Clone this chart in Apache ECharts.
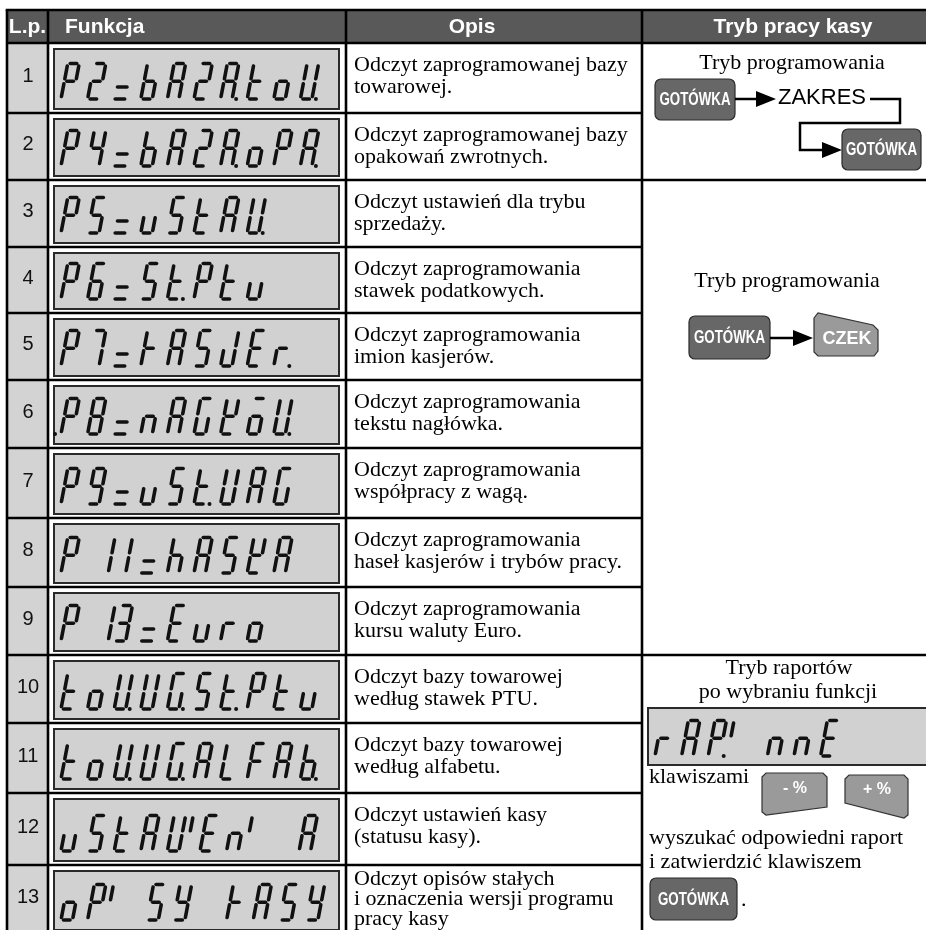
<!DOCTYPE html>
<html><head><meta charset="utf-8">
<script src="https://cdn.jsdelivr.net/npm/echarts@6/dist/echarts.min.js"></script>
<style>html,body{margin:0;padding:0;background:#fff}#c{width:926px;height:930px}</style>
</head><body><div id="c"></div>
<script>
// ---------- DATA ----------
const headers = ['L.p.', 'Funkcja', 'Opis', 'Tryb pracy kasy'];
const rowNumbers = ['1','2','3','4','5','6','7','8','9','10','11','12','13'];
const displayTexts = [
  'P2=bAZA.toU.', 'P4=bAZA.oPA.', 'P5=uStAU.', 'P6=St.Ptu', 'P7=kASJEr.',
  '.P8=nAGŁōU.', 'P9=uSt.UAG', 'P 11=hASŁA', 'P 13=Euro', 'toU.UG.St.Ptu',
  'toU.UG.ALFAb.', 'uStAUIEnI \u2009A', 'oPI SY kASY'
];
const descriptions = [
  ['Odczyt zaprogramowanej bazy', 'towarowej.'],
  ['Odczyt zaprogramowanej bazy', 'opakowań zwrotnych.'],
  ['Odczyt ustawień dla trybu', 'sprzedaży.'],
  ['Odczyt zaprogramowania', 'stawek podatkowych.'],
  ['Odczyt zaprogramowania', 'imion kasjerów.'],
  ['Odczyt zaprogramowania', 'tekstu nagłówka.'],
  ['Odczyt zaprogramowania', 'współpracy z wagą.'],
  ['Odczyt zaprogramowania', 'haseł kasjerów i trybów pracy.'],
  ['Odczyt zaprogramowania', 'kursu waluty Euro.'],
  ['Odczyt bazy towarowej', 'według stawek PTU.'],
  ['Odczyt bazy towarowej', 'według alfabetu.'],
  ['Odczyt ustawień kasy', '(statusu kasy).'],
  ['Odczyt opisów stałych', 'i oznaczenia wersji programu', 'pracy kasy']
];
const modeTitles = [['Tryb programowania'], ['Tryb programowania'], ['Tryb raportów', 'po wybraniu funkcji']];
const keyCash = 'GOTÓWKA';
const keyRange = 'ZAKRES';
const keyCheck = 'CZEK';
const keyMinus = '- %';
const keyPlus = '+ %';
const reportDisplay = 'rAP.I nnE';
const reportTexts = ['klawiszami', 'wyszukać odpowiedni raport', 'i zatwierdzić klawiszem', '.'];

// ---------- LAYOUT ----------
const colEdges = [7, 48, 346, 642, 926];
const tableTop = 10, headTop = 10, headBot = 43;
const rowEdges = [43, 113, 180, 247, 313, 380, 448, 518, 587, 655, 723, 793, 865, 934];
const sections = [[0, 2], [2, 9], [9, 13]];
const GW = 11.5, GH = 35.5, SKEW = 0.19, STROKE = 3.6, GAP = 2.5, PITCH = 26.6;
const LCD_COLOR = '#111';
const SEG = {
  '0':'abcdef','1':'bc','2':'abged','3':'abgcd','4':'fgbc','5':'afgcd','6':'afgedc','7':'abc','8':'abcdefg','9':'abcdfg',
  'A':'abcefg','b':'fedcg','C':'afed','E':'afged','F':'afge','G':'afedc','h':'fegc','J':'bcde','k':'feg',
  'L':'fed','Ł':'fedgb','n':'egc','o':'cdeg','ō':'acdeg','P':'abefg','r':'eg','S':'afgcd','t':'fedg','u':'cde',
  'U':'bcdef','Y':'bcdfg','Z':'abged'
};
function segDef(s) {
  const W = GW, H = GH, g = GAP;
  switch (s) {
    case 'a': return [g, H, W - g, H];
    case 'b': return [W, H - g, W, H / 2 + g];
    case 'c': return [W, H / 2 - g, W, g];
    case 'd': return [g, 0, W - g, 0];
    case 'e': return [0, g, 0, H / 2 - g];
    case 'f': return [0, H / 2 + g, 0, H - g];
    case 'g': return [g, H / 2, W - g, H / 2];
  }
}
function lcd(api, str, x0, base) {
  const els = [];
  const chars = Array.from(str);
  let x = x0, lastX = null, lastW = GW;
  const line = (gx, a) => {
    const p1 = api.coord([gx + a[0] + a[1] * SKEW, base - a[1]]);
    const p2 = api.coord([gx + a[2] + a[3] * SKEW, base - a[3]]);
    els.push({type: 'line', shape: {x1: p1[0], y1: p1[1], x2: p2[0], y2: p2[1]},
      style: {stroke: LCD_COLOR, lineWidth: STROKE, lineCap: 'round'}});
  };
  for (let k = 0; k < chars.length; k++) {
    const ch = chars[k];
    if (ch === '.') {
      const dx = lastX === null ? x - 6 : lastX + lastW + 4;
      const p = api.coord([dx, base]);
      els.push({type: 'circle', shape: {cx: p[0], cy: p[1], r: 2}, style: {fill: LCD_COLOR}});
      continue;
    }
    if (ch === ' ') { x += PITCH; lastX = null; continue; }
    if (ch === '\u2009') { x += PITCH / 2; lastX = null; continue; }
    if (ch === '=') {
      line(x, [1, 0, GW - 1, 0]);
      line(x, [1, GH * 0.34, GW - 1, GH * 0.34]);
      lastX = x; lastW = GW; x += PITCH; continue;
    }
    if (ch === 'I') {              // narrow upper stroke
      line(x - 7.5, segDef('f'));
      lastX = x - 7.5; lastW = 0; x += 6; continue;
    }
    if (ch === '1' && /[0-9]/.test(chars[k + 1] || '')) {  // leading 1 sits just left of the next digit
      line(x - 6, segDef('e')); line(x - 6, segDef('f'));
      continue;
    }
    const segs = SEG[ch] || '';
    for (const s of segs) line(x, segDef(s));
    lastX = x; lastW = GW;
    x += PITCH;
  }
  return els;
}
function rectEl(api, x1, y1, x2, y2, style, r) {
  const p1 = api.coord([x1, y1]), p2 = api.coord([x2, y2]);
  return {type: 'rect', shape: {x: p1[0], y: p1[1], width: p2[0] - p1[0], height: p2[1] - p1[1], r: r || 0}, style: style};
}
function textEl(api, x, y, text, font, align, color, scaleX) {
  const p = api.coord([x, y]);
  return {type: 'text', x: p[0], y: p[1], scaleX: scaleX || 1,
    style: {text: text, x: 0, y: 0, font: font, fill: color || '#000', align: align || 'left', verticalAlign: 'middle'}};
}
function lineEl(api, x1, y1, x2, y2, w, color) {
  const p1 = api.coord([x1, y1]), p2 = api.coord([x2, y2]);
  return {type: 'line', shape: {x1: p1[0], y1: p1[1], x2: p2[0], y2: p2[1]}, style: {stroke: color || '#000', lineWidth: w || 2.5}};
}
function polyEl(api, pts, style) {
  return {type: 'polygon', shape: {points: pts.map(p => api.coord(p))}, style: style};
}
function cashKey(api, x1, y1, x2, y2) {
  return [
    rectEl(api, x1, y1, x2, y2, {fill: '#676767', stroke: '#2a2a2a', lineWidth: 1.2}, 6),
    textEl(api, (x1 + x2) / 2, (y1 + y2) / 2 + 1, keyCash, 'bold 18px "Liberation Sans", Arial', 'center', '#fff', 0.74)
  ];
}
function arrow(api, x1, x2, y) {
  return [
    lineEl(api, x1, y, x2 - 18, y, 2.5),
    polyEl(api, [[x2 - 20, y - 8], [x2, y], [x2 - 20, y + 8]], {fill: '#000'})
  ];
}

const SERIF = '22px "Liberation Serif", "Times New Roman", serif';
const SANS_B = 'bold 21px "Liberation Sans", Arial, sans-serif';

function renderHeader(params, api) {
  const i = api.value(0);
  const els = [];
  if (i === 0) els.push(rectEl(api, colEdges[0], headTop, colEdges[4], headBot, {fill: '#595959'}));
  const cy = (headTop + headBot) / 2 + 1;
  const pos = [[27.5, 'center'], [65, 'left'], [472, 'center'], [793, 'center']][i];
  els.push(textEl(api, pos[0], cy, headers[i], SANS_B, pos[1], '#fff'));
  return {type: 'group', children: els};
}

function renderRow(params, api) {
  const i = api.value(0);
  const top = rowEdges[i], bot = rowEdges[i + 1];
  const els = [];
  els.push(rectEl(api, colEdges[0], top, colEdges[1], bot, {fill: '#d3d3d3'}));
  els.push(textEl(api, 28, (top + bot) / 2 - 2, rowNumbers[i], '20px "Liberation Sans", Arial, sans-serif', 'center', '#111'));
  els.push(rectEl(api, 54, top + 6, 339, bot - 4, {fill: '#d1d1d1', stroke: '#2a2a2a', lineWidth: 2}));
  lcd(api, displayTexts[i], 61, bot - 14).forEach(e => els.push(e));
  const lines = descriptions[i];
  const lh = lines.length > 2 ? 20 : 22;
  const first = lines.length > 2 ? top + 14 : top + 22;
  lines.forEach((t, k) => els.push(textEl(api, 354, first + k * lh, t, SERIF, 'left', '#000')));
  return {type: 'group', children: els};
}

function renderMode(params, api) {
  const i = api.value(0);
  const els = [];
  if (i === 0) {
    els.push(textEl(api, 792, 63, modeTitles[0][0], SERIF, 'center'));
    cashKey(api, 655, 79, 735, 120).forEach(e => els.push(e));
    arrow(api, 735, 776, 99).forEach(e => els.push(e));
    els.push(textEl(api, 778, 98, keyRange, '22px "Liberation Sans", Arial, sans-serif', 'left'));
    els.push({type: 'polyline', shape: {points: [[870, 99], [900, 99], [900, 123], [800, 123], [800, 150], [822, 150]].map(p => api.coord(p))},
      style: {stroke: '#000', lineWidth: 2.5, fill: null}});
    els.push(polyEl(api, [[822, 142], [842, 150], [822, 158]], {fill: '#000'}));
    cashKey(api, 842, 129, 921, 170).forEach(e => els.push(e));
  } else if (i === 1) {
    els.push(textEl(api, 787, 281, modeTitles[1][0], SERIF, 'center'));
    cashKey(api, 689, 316, 770, 359).forEach(e => els.push(e));
    arrow(api, 770, 813, 338).forEach(e => els.push(e));
    els.push(polyEl(api, [[814, 318], [818, 313], [873, 325], [878, 330], [878, 351], [874, 356], [818, 356], [814, 352]],
      {fill: '#9a9a9a', stroke: '#333', lineWidth: 1.2}));
    els.push(textEl(api, 847, 339, keyCheck, 'bold 18px "Liberation Sans", Arial', 'center', '#fff'));
  } else {
    els.push(textEl(api, 789, 668, modeTitles[2][0], SERIF, 'center'));
    els.push(textEl(api, 788, 692, modeTitles[2][1], SERIF, 'center'));
    els.push(rectEl(api, 648, 708, 932, 765, {fill: '#d1d1d1', stroke: '#2a2a2a', lineWidth: 2}));
    lcd(api, reportDisplay, 655, 756).forEach(e => els.push(e));
    els.push(textEl(api, 649, 777, reportTexts[0], SERIF, 'left'));
    els.push(polyEl(api, [[762, 777], [766, 773], [823, 773], [827, 777], [827, 807], [766, 815], [762, 812]],
      {fill: '#9a9a9a', stroke: '#333', lineWidth: 1.2}));
    els.push(textEl(api, 795, 789, keyMinus, 'bold 16px "Liberation Sans", Arial', 'center', '#fff'));
    els.push(polyEl(api, [[845, 779], [849, 775], [904, 775], [908, 779], [908, 815], [904, 818], [845, 803]],
      {fill: '#9a9a9a', stroke: '#333', lineWidth: 1.2}));
    els.push(textEl(api, 877, 790, keyPlus, 'bold 16px "Liberation Sans", Arial', 'center', '#fff'));
    els.push(textEl(api, 649, 838, reportTexts[1], SERIF, 'left'));
    els.push(textEl(api, 649, 862, reportTexts[2], SERIF, 'left'));
    cashKey(api, 650, 878, 737, 920).forEach(e => els.push(e));
    els.push(textEl(api, 741, 900, reportTexts[3], SERIF, 'left'));
  }
  return {type: 'group', children: els};
}

function renderBorders(params, api) {
  const els = [];
  const bottom = rowEdges[rowEdges.length - 1];
  for (let k = 0; k < 4; k++) els.push(lineEl(api, colEdges[k], tableTop, colEdges[k], bottom, 2.6));
  els.push(lineEl(api, colEdges[0] - 1.3, tableTop, colEdges[4], tableTop, 2.6));
  els.push(lineEl(api, colEdges[0], headBot, colEdges[4], headBot, 2.6));
  for (let r = 1; r < rowEdges.length - 1; r++) {
    els.push(lineEl(api, colEdges[0], rowEdges[r], colEdges[3], rowEdges[r], 2.6));
  }
  sections.slice(1).forEach(s => els.push(lineEl(api, colEdges[3], rowEdges[s[0]], colEdges[4], rowEdges[s[0]], 2.6)));
  return {type: 'group', children: els};
}

const chart = echarts.init(document.getElementById('c'), null, {renderer: 'canvas'});
chart.setOption({
  animation: false,
  backgroundColor: '#fff',
  grid: {left: 0, right: 0, top: 0, bottom: 0},
  xAxis: {type: 'value', min: 0, max: 926, show: false},
  yAxis: {type: 'value', min: 0, max: 930, inverse: true, show: false},
  series: [
    {type: 'custom', silent: true, data: headers.map((h, i) => [i]), renderItem: renderHeader},
    {type: 'custom', silent: true, data: rowNumbers.map((n, i) => [i]), renderItem: renderRow},
    {type: 'custom', silent: true, data: modeTitles.map((m, i) => [i]), renderItem: renderMode},
    {type: 'custom', silent: true, data: [[0]], renderItem: renderBorders}
  ]
});
</script></body></html>
